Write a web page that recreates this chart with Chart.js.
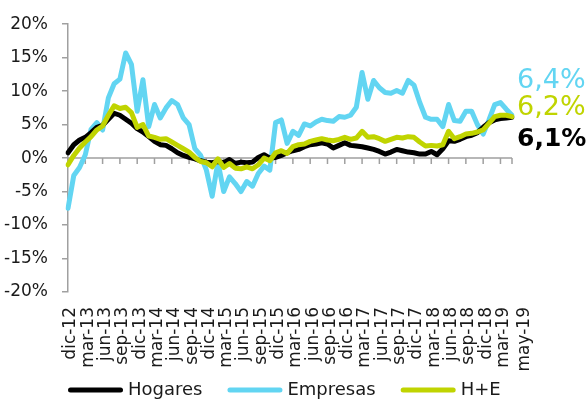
<!DOCTYPE html>
<html>
<head>
<meta charset="utf-8">
<script src="https://cdn.jsdelivr.net/npm/chart.js@4.4.1/dist/chart.umd.min.js"></script>
<style>
    body { margin: 0; background: #fff; overflow: hidden; }
    canvas { display: block; }
</style>
</head>
<body>
<canvas id="grafico" width="586" height="401"></canvas>
<script>
// Meses (dic-12 a may-19)
const meses = [
    'dic-12',
    'ene-13', 'feb-13', 'mar-13', 'abr-13', 'may-13', 'jun-13', 'jul-13', 'ago-13', 'sep-13', 'oct-13', 'nov-13', 'dic-13',
    'ene-14', 'feb-14', 'mar-14', 'abr-14', 'may-14', 'jun-14', 'jul-14', 'ago-14', 'sep-14', 'oct-14', 'nov-14', 'dic-14',
    'ene-15', 'feb-15', 'mar-15', 'abr-15', 'may-15', 'jun-15', 'jul-15', 'ago-15', 'sep-15', 'oct-15', 'nov-15', 'dic-15',
    'ene-16', 'feb-16', 'mar-16', 'abr-16', 'may-16', 'jun-16', 'jul-16', 'ago-16', 'sep-16', 'oct-16', 'nov-16', 'dic-16',
    'ene-17', 'feb-17', 'mar-17', 'abr-17', 'may-17', 'jun-17', 'jul-17', 'ago-17', 'sep-17', 'oct-17', 'nov-17', 'dic-17',
    'ene-18', 'feb-18', 'mar-18', 'abr-18', 'may-18', 'jun-18', 'jul-18', 'ago-18', 'sep-18', 'oct-18', 'nov-18', 'dic-18',
    'ene-19', 'feb-19', 'mar-19', 'abr-19', 'may-19'
];

// Variación interanual (%)
const hogares = [
    0.8,
    2.0, 2.7, 3.1, 3.8, 4.6, 4.9, 5.8, 6.7, 6.4, 5.8, 5.2, 4.4,
    3.9, 3.2, 2.5, 2.0, 1.9, 1.4, 0.8, 0.4, 0.1, -0.1, -0.4, -0.6,
    -0.7, -0.5, -0.7, -0.2, -0.8, -0.6, -0.7, -0.6, 0.1, 0.5, 0.0, 0.1,
    0.4, 0.8, 1.1, 1.3, 1.7, 2.0, 2.1, 2.3, 2.1, 1.5, 1.9, 2.3,
    1.9, 1.8, 1.7, 1.5, 1.3, 1.0, 0.6, 0.9, 1.3, 1.1, 0.9, 0.8,
    0.6, 0.6, 1.0, 0.5, 1.4, 2.6, 2.5, 2.8, 3.2, 3.4, 3.8, 4.6,
    5.3, 5.7, 5.9, 6.0, 6.1
];

const empresas = [
    -7.5,
    -2.6, -1.4, 0.5, 4.3, 5.3, 4.2, 9.0, 11.1, 11.8, 15.7, 14.0, 7.0,
    11.7, 4.7, 8.0, 6.0, 7.5, 8.6, 8.0, 6.0, 5.0, 1.4, 0.4, -1.8,
    -5.7, -0.6, -5.0, -2.8, -3.8, -5.0, -3.5, -4.2, -2.3, -1.2, -1.8, 5.3,
    5.7, 2.2, 4.0, 3.4, 5.1, 4.8, 5.4, 5.8, 5.6, 5.5, 6.2, 6.1,
    6.4, 7.6, 12.8, 8.8, 11.6, 10.5, 9.8, 9.7, 10.1, 9.7, 11.6, 10.9,
    8.3, 6.1, 5.8, 5.8, 4.7, 8.0, 5.6, 5.5, 7.0, 7.0, 5.0, 3.6,
    5.7, 8.0, 8.3, 7.3, 6.4
];

const hogaresEmpresas = [
    -1.0,
    0.4, 1.5, 2.4, 3.2, 4.2, 4.8, 6.4, 7.8, 7.4, 7.6, 6.8, 4.6,
    5.0, 3.3, 3.1, 2.8, 2.9, 2.4, 1.9, 1.4, 0.9, 0.1, -0.5, -0.7,
    -1.3, -0.1, -1.4, -0.8, -1.5, -1.6, -1.3, -1.6, -1.0, 0.0, -0.4, 0.8,
    1.1, 0.7, 1.7, 2.0, 2.1, 2.5, 2.7, 2.9, 2.7, 2.6, 2.8, 3.1,
    2.8, 3.0, 4.0, 3.1, 3.2, 2.9, 2.5, 2.8, 3.1, 3.0, 3.2, 3.1,
    2.4, 1.8, 1.9, 1.8, 2.0, 4.0, 2.9, 3.2, 3.6, 3.7, 3.9, 4.2,
    5.2, 6.2, 6.4, 6.4, 6.2
];

const ticksY = [-20, -15, -10, -5, 0, 5, 10, 15, 20];

const NEGRO = '#000000';
const CELESTE = '#62d5f2';
const LIMA = '#c0d400';
const GRIS = '#a0a0a0';
const TEXTO = '#1a1a1a';
const FUENTE = "'DejaVu Sans', sans-serif";

function fmtPct(v) {
    return v.toFixed(1).replace('.', ',') + '%';
}

// Línea del cero con sus marcas, etiquetas finales y leyenda
const extras = {
    id: 'extras',
    beforeDatasetsDraw(chart) {
        const ctx = chart.ctx;
        const x = chart.scales.x;
        const y0 = chart.scales.y.getPixelForValue(0);
        const area = chart.chartArea;
        ctx.save();
        ctx.strokeStyle = GRIS;
        ctx.lineWidth = 1.5;
        ctx.beginPath();
        ctx.moveTo(area.left, y0);
        ctx.lineTo(area.right, y0);
        for (let i = 0; i < meses.length; i++) {
            if (i % 3 === 0 || i === meses.length - 1) {
                const px = x.getPixelForValue(i);
                ctx.moveTo(px, y0);
                ctx.lineTo(px, y0 + 6);
            }
        }
        ctx.stroke();
        ctx.restore();
    },
    afterDraw(chart) {
        const ctx = chart.ctx;
        const ds = chart.data.datasets;
        const area = chart.chartArea;
        ctx.save();

        // Última etiqueta del eje (may-19), algo separada como en el original
        const ultimo = meses.length - 1;
        ctx.save();
        ctx.translate(chart.scales.x.getPixelForValue(ultimo) + 13, area.bottom + 15);
        ctx.rotate(-Math.PI / 2);
        ctx.font = '17px ' + FUENTE;
        ctx.fillStyle = TEXTO;
        ctx.textAlign = 'right';
        ctx.textBaseline = 'middle';
        ctx.fillText(meses[ultimo], 0, 0);
        ctx.restore();

        // Valores finales a la derecha
        const finales = [
            { d: 1, y: 81, font: 'normal 27px ' + FUENTE },
            { d: 2, y: 108, font: 'normal 27px ' + FUENTE },
            { d: 0, y: 139, font: 'bold 25px ' + FUENTE }
        ];
        ctx.textBaseline = 'middle';
        ctx.textAlign = 'left';
        finales.forEach(f => {
            const serie = ds[f.d].data;
            ctx.font = f.font;
            ctx.fillStyle = ds[f.d].borderColor;
            ctx.fillText(fmtPct(serie[serie.length - 1]), area.right + 5, f.y);
        });

        // Leyenda
        ctx.font = '18px ' + FUENTE;
        ctx.lineCap = 'round';
        ctx.lineWidth = 5;
        let x = area.left;
        const yl = 390;
        ds.forEach(d => {
            ctx.strokeStyle = d.borderColor;
            ctx.beginPath();
            ctx.moveTo(x + 2.5, yl);
            ctx.lineTo(x + 52.5, yl);
            ctx.stroke();
            ctx.fillStyle = TEXTO;
            ctx.fillText(d.label, x + 60, yl);
            x += 60 + ctx.measureText(d.label).width + 25;
        });
        ctx.restore();
    }
};

function serie(label, data, color, order) {
    return {
        label: label,
        data: data,
        borderColor: color,
        backgroundColor: color,
        borderWidth: 5,
        pointRadius: 0,
        tension: 0,
        borderJoinStyle: 'round',
        borderCapStyle: 'round',
        order: order
    };
}

const ctx = document.getElementById('grafico').getContext('2d');
new Chart(ctx, {
    type: 'line',
    data: {
        labels: meses,
        datasets: [
            serie('Hogares', hogares, NEGRO, 1),
            serie('Empresas', empresas, CELESTE, 2),
            serie('H+E', hogaresEmpresas, LIMA, 0)
        ]
    },
    options: {
        responsive: false,
        animation: false,
        layout: {
            padding: { top: 21, right: 74, bottom: 28, left: 0 }
        },
        plugins: {
            legend: { display: false },
            tooltip: { enabled: false }
        },
        scales: {
            x: {
                type: 'category',
                offset: false,
                grid: { display: false, drawTicks: false },
                border: { display: false },
                ticks: {
                    autoSkip: false,
                    minRotation: 90,
                    maxRotation: 90,
                    padding: 15,
                    labelOffset: 3,
                    color: TEXTO,
                    font: { family: FUENTE, size: 17 },
                    callback: function(value, index) {
                        // cada trimestre; la última etiqueta se dibuja aparte
                        return (index % 3 === 0 && index < meses.length - 1) ? meses[index] : '';
                    }
                },
                afterFit: function(scale) {
                    scale.height = 81;
                }
            },
            y: {
                min: ticksY[0],
                max: ticksY[ticksY.length - 1],
                afterBuildTicks: function(scale) {
                    scale.ticks = ticksY.map(v => ({ value: v }));
                },
                grid: {
                    drawOnChartArea: false,
                    drawTicks: true,
                    tickLength: 6,
                    color: GRIS,
                    lineWidth: 1.5
                },
                border: { color: GRIS, width: 1.5 },
                ticks: {
                    padding: 14,
                    color: TEXTO,
                    font: { family: FUENTE, size: 17 },
                    callback: function(value) {
                        return value + '%';
                    }
                },
                afterFit: function(scale) {
                    scale.width = 68;
                }
            }
        }
    },
    plugins: [extras]
});
</script>
</body>
</html>
